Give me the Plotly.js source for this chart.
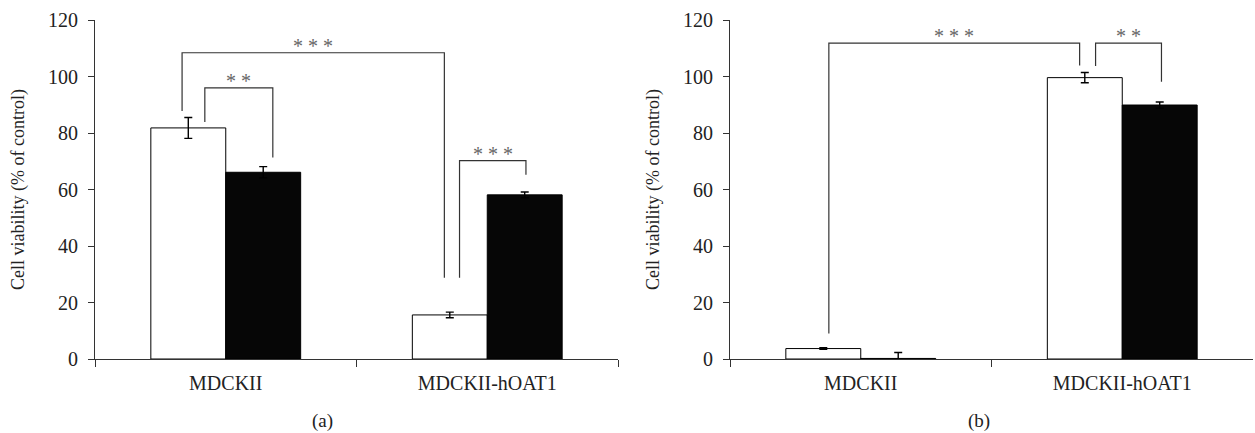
<!DOCTYPE html>
<html>
<head>
<meta charset="utf-8">
<script src="https://cdn.plot.ly/plotly-3.0.1.min.js"></script>
<style>html,body{margin:0;padding:0;background:#fff;}#chart{width:1255px;height:433px;}</style>
</head>
<body>
<div id="chart"></div>
<script>
// ---- data ----
const categories = ["MDCKII", "MDCKII-hOAT1"];
const panelA_white = [81.8, 15.6];
const panelA_whiteErr = [3.7, 1.0];
const panelA_black = [66.1, 58.1];
const panelA_blackErr = [2.0, 1.0];
const panelB_white = [3.7, 99.6];
const panelB_whiteErr = [0.3, 1.8];
const panelB_black = [0.2, 89.9];
const panelB_blackErr = [2.1, 1.1];
const yTickVals = [0, 20, 40, 60, 80, 100, 120];
const yTitle = "Cell viability (% of control)";
const panelLabels = ["(a)", "(b)"];
// significance brackets: [xLeft, yLeftBottom, xRight, yRightBottom, yTop, label]
const bracketsA = [
  [-0.167, 87.8, 0.836, 28.8, 108.4, "* * *"],
  [-0.080, 83.9, 0.180, 71.3, 96.0, "* *"],
  [0.894, 28.8, 1.148, 65.2, 70.2, "* * *"]
];
const bracketsB = [
  [-0.122, 9.0, 0.837, 103.9, 111.8, "* * *"],
  [0.898, 103.7, 1.150, 98.1, 111.8, "* *"]
];

const serif = "'Liberation Serif', 'Times New Roman', serif";
const axisColor = "#333";
const textColor = "#222";

function barTrace(y, err, color, xa, ya) {
  return {
    type: "bar", x: categories, y: y, xaxis: xa, yaxis: ya,
    marker: {color: color, line: {color: "#000", width: 1}},
    error_y: {type: "data", array: err, visible: true, color: "#000", thickness: 1.4, width: 4},
    showlegend: false, hoverinfo: "skip"
  };
}

const data = [
  barTrace(panelA_white, panelA_whiteErr, "#ffffff", "x", "y"),
  barTrace(panelA_black, panelA_blackErr, "#060606", "x", "y"),
  barTrace(panelB_white, panelB_whiteErr, "#ffffff", "x2", "y2"),
  barTrace(panelB_black, panelB_blackErr, "#060606", "x2", "y2")
];

const shapes = [];
const annotations = [];
function addBrackets(list, xr, yr) {
  list.forEach(b => {
    const [xl, yl, xr2, yr2, yt, lab] = b;
    shapes.push({type: "path", xref: xr, yref: yr,
      path: `M ${xl} ${yl} L ${xl} ${yt} L ${xr2} ${yt} L ${xr2} ${yr2}`,
      line: {color: axisColor, width: 1.2}});
    annotations.push({xref: xr, yref: yr, x: (xl + xr2) / 2, y: yt, text: lab,
      showarrow: false, yanchor: "bottom", yshift: -6,
      font: {family: serif, size: 20, color: "#666"}});
  });
}
addBrackets(bracketsA, "x", "y");
addBrackets(bracketsB, "x2", "y2");

annotations.push({xref: "paper", yref: "paper", x: 0.2471, y: -0.183, yanchor: "middle",
  text: panelLabels[0], showarrow: false, font: {family: serif, size: 19, color: textColor}});
annotations.push({xref: "paper", yref: "paper", x: 0.7901, y: -0.183, yanchor: "middle",
  text: panelLabels[1], showarrow: false, font: {family: serif, size: 19, color: textColor}});

function xAxis(domain, anchor) {
  return {domain: domain, anchor: anchor, type: "category", range: [-0.5, 1.5],
    showline: true, linecolor: axisColor, linewidth: 1, ticks: "outside", ticklen: 7,
    tickcolor: axisColor, tickson: "boundaries", showgrid: false, zeroline: false,
    ticklabelstandoff: 6,
    tickfont: {family: serif, size: 20, color: textColor}, fixedrange: true};
}
function yAxis(domain, anchor) {
  return {domain: [0, 1], anchor: anchor, range: [0, 120], tickvals: yTickVals,
    showline: true, linecolor: axisColor, linewidth: 1, ticks: "outside", ticklen: 6,
    tickcolor: axisColor, showgrid: false, zeroline: false, ticklabelstandoff: 6,
    tickfont: {family: serif, size: 20, color: textColor},
    title: {text: yTitle, font: {family: serif, size: 18, color: textColor}, standoff: 18},
    fixedrange: true};
}

const layout = {
  width: 1255, height: 433,
  margin: {l: 0, r: 0, t: 20, b: 74},
  paper_bgcolor: "#fff", plot_bgcolor: "#fff",
  barmode: "group", bargap: 0.427, bargroupgap: 0,
  xaxis: xAxis([95 / 1255, 618 / 1255], "y"),
  yaxis: yAxis([0, 1], "x"),
  xaxis2: xAxis([730 / 1255, 1253 / 1255], "y2"),
  yaxis2: yAxis([0, 1], "x2"),
  shapes: shapes,
  annotations: annotations
};

Plotly.newPlot("chart", data, layout, {staticPlot: true});
</script>
</body>
</html>
